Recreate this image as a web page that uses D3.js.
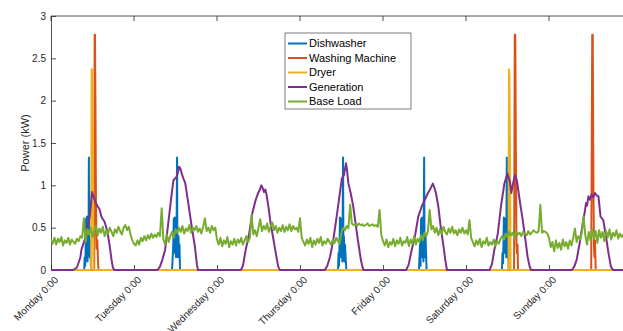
<!DOCTYPE html>
<html>
<head>
<meta charset="utf-8">
<script src="https://cdn.jsdelivr.net/npm/d3@7"></script>
<style>
  html, body { margin: 0; padding: 0; background: #fff; }
  svg { display: block; font-family: "Liberation Sans", Arial, Helvetica, sans-serif; }
</style>
</head>
<body>
<svg id="chart" width="623" height="331"></svg>
<script>
// ---------- DATA ----------
const dayLabels = ["Monday 0:00", "Tuesday 0:00", "Wednesday 0:00", "Thursday 0:00", "Friday 0:00", "Saturday 0:00", "Sunday 0:00"];
const dayTickHours = [0, 24, 48, 72, 96, 120, 144];
const yTickValues = [0, 0.5, 1, 1.5, 2, 2.5, 3];
const yTickLabels = ["0", "0.5", "1", "1.5", "2", "2.5", "3"];
const seriesNames = ["Dishwasher", "Washing Machine", "Dryer", "Generation", "Base Load"];

// Dishwasher (hour, kW)
const dishwasherHours = [0, 9.6, 9.75, 9.9, 10.05, 10.15, 10.45, 10.55, 10.7, 10.85, 10.95, 11.05, 11.2, 11.35, 11.5, 11.6,
  35.0, 35.2, 35.35, 35.5, 35.75, 35.85, 36.0, 36.15, 36.3, 36.45, 36.55, 36.7, 36.85, 37.0, 37.15, 37.3,
  83.0, 83.15, 83.3, 83.45, 83.55, 83.85, 83.95, 84.1, 84.25, 84.45, 84.55, 84.7, 84.85, 85.0, 85.2, 85.4,
  106.4, 106.55, 106.7, 106.85, 107.0, 107.3, 107.4, 107.55, 107.7, 107.9, 108.0, 108.15, 108.3, 108.45, 108.6,
  130.4, 130.55, 130.7, 130.85, 130.95, 131.25, 131.35, 131.5, 131.65, 131.8, 131.9, 132.05, 132.2, 132.35, 168];
const dishwasherKW = [0, 0, 0.15, 0.05, 0.3, 0.6, 0.63, 0.1, 0.35, 0.2, 1.33, 0.3, 0.15, 0.35, 0.1, 0,
  0, 0.15, 0.3, 0.6, 0.62, 0.2, 0.4, 0.15, 0.35, 1.33, 0.3, 0.15, 0.4, 0.2, 0.3, 0,
  0, 0.2, 0.05, 0.35, 0.62, 0.6, 0.15, 0.3, 0.1, 1.33, 0.25, 0.4, 0.1, 0.3, 0.15, 0,
  0, 0.15, 0.3, 0.05, 0.6, 0.62, 0.15, 0.35, 0.1, 1.33, 0.3, 0.15, 0.4, 0.2, 0,
  0, 0.2, 0.08, 0.35, 0.62, 0.6, 0.2, 0.4, 0.15, 1.33, 0.3, 0.15, 0.35, 0, 0];

// Washing machine (hour, kW)
const washerHours = [0, 12.5, 12.62, 12.72, 12.85, 13.0, 13.2, 13.4, 13.6, 13.75,
  133.9, 134.1, 134.25, 134.45, 134.6, 134.75, 134.9, 135.05,
  156.2, 156.5, 156.65, 156.85, 157.0, 157.15, 157.3, 157.5, 168];
const washerKW = [0, 0, 2.78, 2.78, 2.0, 0.8, 0.25, 0.35, 0.1, 0,
  0, 2.78, 2.78, 1.2, 0.3, 0.2, 0.3, 0,
  0, 2.78, 2.78, 1.0, 0.3, 0.15, 0.35, 0, 0];

// Dryer (hour, kW)
const dryerHours = [0, 11.6, 11.75, 11.9, 12.1, 12.3, 132.3, 132.42, 132.55, 132.75, 132.9, 168];
const dryerKW = [0, 0, 2.37, 2.37, 1.4, 0, 0, 2.37, 2.3, 1.3, 0, 0];

// Generation (hour, kW)
const generationHours = [0, 6.4, 7.5, 8.5, 8.8, 9.7, 10.5, 11.2, 11.6, 11.85, 12.2, 12.6, 13.0, 13.5, 14.0, 14.6, 15.0, 15.5, 16.2, 16.6, 17.0, 17.5, 17.9, 18.3,
  30.8, 31.5, 32.2, 33.0, 33.9, 34.9, 35.4, 36.3, 36.7, 37.0, 37.4, 37.8, 38.3, 38.8, 39.7, 40.7, 41.6, 42.2, 42.5,
  54.9, 55.5, 56.3, 57.3, 58.2, 59.2, 59.9, 60.4, 60.8, 61.2, 61.6, 62.0, 62.4, 63.0, 63.5, 64.2, 65.0, 65.7, 66.2,
  79.2, 79.9, 80.7, 81.6, 82.6, 83.4, 84.1, 84.7, 85.3, 85.6, 86.0, 86.7, 87.4, 88.2, 88.9, 89.6, 90.1, 90.4,
  102.7, 103.4, 104.3, 105.2, 106.2, 107.2, 108.1, 109.0, 109.6, 110.4, 110.8, 111.3, 112.0, 112.8, 113.5, 114.0, 114.5,
  126.8, 127.5, 128.2, 129.2, 130.1, 131.1, 132.0, 132.4, 132.7, 133.1, 133.5, 134.0, 134.2, 134.7, 135.5, 136.4, 137.2, 137.8, 138.4, 138.8,
  150.6, 151.3, 152.0, 153.0, 153.9, 154.4, 154.7, 155.0, 155.4, 155.8, 156.3, 156.8, 157.3, 157.8, 158.3, 158.9, 159.7, 160.5, 161.2, 161.9, 162.5, 168];
const generationKW = [0, 0, 0.03, 0.15, 0.24, 0.35, 0.5, 0.63, 0.8, 0.92, 0.88, 0.83, 0.79, 0.75, 0.72, 0.63, 0.6, 0.57, 0.47, 0.38, 0.28, 0.12, 0.03, 0,
  0, 0.04, 0.12, 0.24, 0.55, 0.9, 1.06, 1.1, 1.15, 1.22, 1.2, 1.14, 1.08, 1.03, 0.79, 0.51, 0.28, 0.06, 0,
  0, 0.05, 0.24, 0.43, 0.67, 0.83, 0.91, 0.95, 1.0, 0.97, 0.92, 0.95, 0.87, 0.71, 0.55, 0.39, 0.2, 0.04, 0,
  0, 0.05, 0.16, 0.35, 0.63, 0.87, 1.08, 1.12, 1.26, 1.18, 1.02, 0.9, 0.75, 0.51, 0.31, 0.12, 0.03, 0,
  0, 0.06, 0.24, 0.39, 0.63, 0.75, 0.83, 0.91, 0.95, 1.02, 0.98, 0.91, 0.75, 0.47, 0.28, 0.12, 0,
  0, 0.07, 0.24, 0.43, 0.75, 1.02, 1.14, 1.08, 1.04, 0.91, 1.0, 1.1, 1.12, 1.06, 0.83, 0.59, 0.35, 0.16, 0.04, 0,
  0, 0.04, 0.12, 0.35, 0.59, 0.7, 0.79, 0.76, 0.87, 0.83, 0.89, 0.86, 0.91, 0.88, 0.87, 0.63, 0.59, 0.39, 0.2, 0.04, 0, 0];

// Base load, one sample every 30 minutes from Monday 0:00
const baseLoadStepHours = 0.5;
const baseLoadKW = [
  // Monday
  0.36,0.31,0.38,0.30,0.37,0.33,0.39,0.29,0.35,0.32,0.38,0.30,0.36,0.33,0.31,0.37,0.34,0.40,
  0.38,0.61,
  0.33,0.48,0.42,0.50,0.39,0.47,0.52,0.41,0.49,0.44,0.51,0.40,0.47,0.43,0.50,0.45,0.40,0.48,0.44,0.51,0.46,0.42,0.50,0.53,0.47,0.51,0.42,0.35,
  // Tuesday
  0.31,0.29,0.35,0.30,0.38,0.34,0.40,0.35,0.41,0.37,0.43,0.38,0.42,0.39,0.44,0.40,
  0.73,0.36,0.30,0.42,0.33,0.40,0.45,0.38,0.48,0.44,0.50,0.45,0.52,0.43,0.49,0.46,
  0.53,0.44,0.50,0.47,0.52,0.45,0.49,0.43,0.51,0.61,0.46,0.50,0.44,0.52,0.47,0.50,
  // Wednesday
  0.36,0.30,0.38,0.28,0.35,0.31,0.39,0.27,0.34,0.30,0.37,0.29,0.36,0.32,0.38,0.30,0.35,0.40,0.33,0.38,
  0.65,0.42,0.47,0.40,0.50,0.60,0.46,0.52,0.48,0.55,0.45,0.51,0.56,0.47,0.52,0.44,0.50,0.46,0.53,0.45,0.51,0.47,0.54,0.46,0.52,0.48,0.50,0.45,
  // Thursday
  0.61,0.38,0.33,0.29,0.36,0.31,0.38,0.27,0.35,0.30,0.37,0.32,0.39,0.29,0.34,0.31,0.37,0.33,0.30,0.36,0.32,0.38,0.34,0.31,
  0.45,0.50,0.47,0.52,0.49,0.77,0.55,0.53,0.54,0.52,0.55,0.53,0.54,0.52,0.53,0.55,0.52,0.53,0.54,0.52,0.53,0.51,0.71,0.42,
  // Friday
  0.34,0.29,0.36,0.27,0.33,0.30,0.37,0.28,0.35,0.31,0.38,0.29,0.34,0.32,0.39,0.28,0.36,0.31,0.40,0.30,0.37,0.33,0.41,0.35,
  0.44,0.40,0.46,0.71,0.48,0.52,0.44,0.50,0.41,0.48,0.43,0.51,0.45,0.42,0.49,0.44,0.51,0.43,0.47,0.41,0.48,0.44,0.50,0.43,
  // Saturday
  0.47,0.42,0.59,0.38,0.33,0.28,0.35,0.30,0.37,0.27,0.34,0.31,0.38,0.29,0.33,0.30,0.36,0.28,0.34,0.31,0.37,0.40,0.36,0.43,
  0.39,0.45,0.41,0.44,0.38,0.46,0.42,0.44,0.40,0.45,0.43,0.41,0.46,0.42,0.44,0.47,0.45,0.44,0.46,0.77,0.44,0.46,0.45,0.43,
  // Sunday
  0.38,0.27,0.33,0.22,0.35,0.26,0.32,0.24,0.36,0.28,0.33,0.25,0.35,0.29,0.38,0.49,0.33,0.40,0.36,0.44,0.63,0.41,0.30,0.45,
  0.35,0.48,0.37,0.46,0.32,0.47,0.38,0.45,0.34,0.46,0.39,0.48,0.36,0.44,0.40,0.47,0.37,0.43,0.39,0.42,0.36,0.41,0.38,0.40
];

const colors = ["#0072BD", "#D95319", "#EDB120", "#7E2F8E", "#77AC30"];

// ---------- CHART ----------
const svg = d3.select("#chart");
const mLeft = 51, mRight = 632, mTop = 16, mBottom = 270;
const x = d3.scaleLinear().domain([0, 168]).range([mLeft, mRight]);
const y = d3.scaleLinear().domain([0, 3]).range([mBottom, mTop]);
const axisColor = "#262626";

svg.append("defs").append("clipPath").attr("id", "clip")
  .append("rect").attr("x", mLeft).attr("y", mTop - 2).attr("width", mRight - mLeft).attr("height", mBottom - mTop + 4);

// Box (top line + right line)
svg.append("line").attr("x1", mLeft).attr("x2", mRight).attr("y1", mTop).attr("y2", mTop)
  .attr("stroke", axisColor).attr("stroke-width", 0.8);
svg.append("line").attr("x1", mRight).attr("x2", mRight).attr("y1", mTop).attr("y2", mBottom)
  .attr("stroke", axisColor).attr("stroke-width", 0.8);

// Top ticks
svg.append("g").selectAll("line").data(dayTickHours).join("line")
  .attr("x1", d => x(d)).attr("x2", d => x(d)).attr("y1", mTop).attr("y2", mTop + 5)
  .attr("stroke", axisColor).attr("stroke-width", 0.8);

// Left axis
const yAxis = d3.axisLeft(y).tickValues(yTickValues)
  .tickFormat((d, i) => yTickLabels[i]).tickSizeInner(-5).tickSizeOuter(0).tickPadding(5);
const gy = svg.append("g").attr("transform", `translate(${mLeft},0)`).call(yAxis);
gy.select(".domain").attr("stroke", axisColor).attr("stroke-width", 0.8);
gy.selectAll(".tick line").attr("stroke", axisColor).attr("stroke-width", 0.8);
gy.selectAll(".tick text").attr("fill", axisColor).style("font-size", "10px")
  .style("font-family", "'Liberation Sans', Arial, sans-serif");

// Bottom axis
const xAxis = d3.axisBottom(x).tickValues(dayTickHours)
  .tickFormat((d, i) => dayLabels[i]).tickSizeInner(-5).tickSizeOuter(0).tickPadding(0);
const gx = svg.append("g").attr("transform", `translate(0,${mBottom})`).call(xAxis);
gx.select(".domain").attr("stroke", axisColor).attr("stroke-width", 0.8);
gx.selectAll(".tick line").attr("stroke", axisColor).attr("stroke-width", 0.8);
gx.selectAll(".tick text")
  .attr("fill", axisColor).style("font-size", "10px")
  .style("font-family", "'Liberation Sans', Arial, sans-serif")
  .attr("x", null).attr("y", null).attr("dy", "0.35em")
  .attr("text-anchor", "end")
  .attr("transform", "translate(5,8) rotate(-45)");

// Data lines (drawn over the axes, in legend order)
const zip = (hs, vs) => hs.map((h, i) => [h, vs[i]]);
const seriesData = [
  zip(dishwasherHours, dishwasherKW),
  zip(washerHours, washerKW),
  zip(dryerHours, dryerKW),
  zip(generationHours, generationKW),
  baseLoadKW.map((v, i) => [i * baseLoadStepHours, v])
];

const line = d3.line().x(d => x(d[0])).y(d => y(d[1]));
const plot = svg.append("g").attr("clip-path", "url(#clip)");
seriesData.forEach((data, i) => {
  plot.append("path").datum(data)
    .attr("fill", "none")
    .attr("stroke", colors[i])
    .attr("stroke-width", 2)
    .attr("stroke-linejoin", "round")
    .attr("d", line);
});

// Y label
svg.append("text")
  .attr("transform", `translate(29,${(mTop + mBottom) / 2}) rotate(-90)`)
  .attr("text-anchor", "middle")
  .attr("fill", axisColor)
  .style("font-size", "11px")
  .text("Power (kW)");

// Legend
const lg = svg.append("g");
lg.append("rect").attr("x", 285).attr("y", 33).attr("width", 126).attr("height", 76)
  .attr("fill", "#fff").attr("stroke", axisColor).attr("stroke-width", 0.6);
seriesNames.forEach((name, i) => {
  const yy = 43.5 + i * 14.5;
  lg.append("line").attr("x1", 288).attr("x2", 307).attr("y1", yy).attr("y2", yy)
    .attr("stroke", colors[i]).attr("stroke-width", 2);
  lg.append("text").attr("x", 309).attr("y", yy).attr("dy", "0.35em")
    .attr("fill", "#000").style("font-size", "11px").text(name);
});
</script>
</body>
</html>
